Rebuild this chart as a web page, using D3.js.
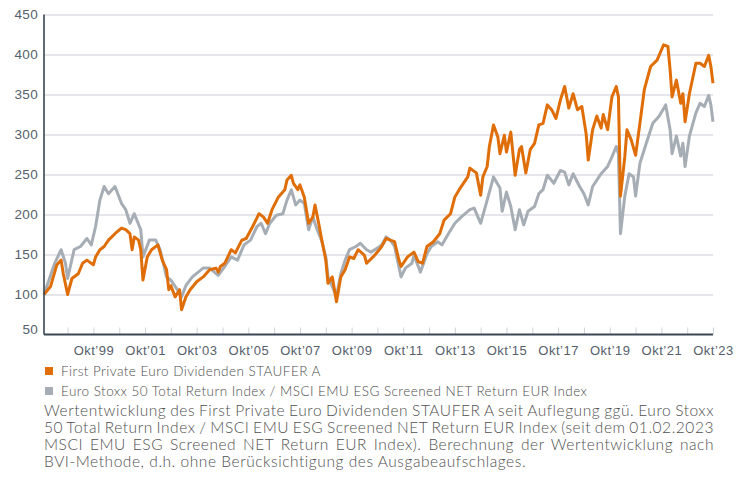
<!DOCTYPE html>
<html>
<head>
<meta charset="utf-8">
<script src="https://cdn.jsdelivr.net/npm/d3@7"></script>
<style>
  body { margin: 0; background: #fff; }
  svg { display: block; font-family: Lato, "Open Sans", sans-serif; }
  svg text { font-weight: 300; }
</style>
</head>
<body>
<script>
// ---- data (month, index value) ----
const fundDates = ["1997-11","1998-02","1998-05","1998-07","1998-08","1998-10","1998-12","1999-03","1999-05","1999-07",
  "1999-10","1999-11","2000-01","2000-03","2000-05","2000-08","2000-11","2001-01","2001-03","2001-04",
  "2001-05","2001-07","2001-08","2001-09","2001-11","2002-01","2002-04","2002-06","2002-08","2002-09",
  "2002-10","2002-12","2003-02","2003-03","2003-05","2003-07","2003-10","2004-01","2004-04","2004-07",
  "2004-08","2004-09","2004-11","2005-02","2005-04","2005-07","2005-09","2005-12","2006-03","2006-05",
  "2006-07","2006-09","2006-12","2007-03","2007-04","2007-06","2007-07","2007-09","2007-10","2007-12",
  "2008-02","2008-04","2008-05","2008-07","2008-08","2008-10","2008-11","2009-01","2009-03","2009-05",
  "2009-07","2009-09","2009-11","2010-01","2010-04","2010-05","2010-08","2010-10","2010-12","2011-02",
  "2011-04","2011-06","2011-08","2011-09","2011-12","2012-03","2012-05","2012-07","2012-09","2012-12",
  "2013-03","2013-05","2013-08","2013-10","2013-12","2014-04","2014-05","2014-08","2014-10","2014-11",
  "2015-01","2015-02","2015-04","2015-06","2015-07","2015-09","2015-10","2015-12","2016-02","2016-04",
  "2016-05","2016-07","2016-09","2016-11","2017-01","2017-03","2017-05","2017-07","2017-09","2017-11",
  "2018-01","2018-03","2018-05","2018-07","2018-09","2018-11","2018-12","2019-02","2019-04","2019-06",
  "2019-07","2019-09","2019-11","2020-01","2020-02","2020-03","2020-05","2020-06","2020-08","2020-10",
  "2020-12","2021-02","2021-05","2021-08","2021-11","2022-01","2022-02","2022-03","2022-05","2022-07",
  "2022-08","2022-09","2022-11","2023-02","2023-04","2023-06","2023-08","2023-09","2023-10"];
const fundValues = [100,110,137,143,126,100,120,126,139,143,
  137,147,156,160,168,176,183,181,176,156,
  172,168,156,118,147,156,162,143,131,106,
  111,97,106,81,97,106,116,122,131,133,
  128,135,139,156,152,168,170,185,201,197,
  189,206,222,231,243,249,239,231,237,222,
  189,197,212,185,170,143,114,122,91,122,
  131,147,145,156,149,139,147,153,160,170,
  168,166,143,135,147,153,141,139,160,166,
  176,193,201,222,231,247,258,252,224,247,
  260,285,312,297,276,299,278,303,249,281,
  285,252,281,289,312,314,337,331,320,343,
  360,333,351,331,335,301,268,306,323,308,
  325,306,347,360,347,223,272,306,293,274,
  314,356,385,393,412,410,381,347,368,339,
  351,316,351,389,389,385,399,385,364];

const benchDates = ["1997-11","1998-04","1998-07","1998-09","1998-10","1999-01","1999-04","1999-07","1999-09","1999-11",
  "2000-01","2000-03","2000-05","2000-08","2000-11","2001-01","2001-03","2001-05","2001-08","2001-09",
  "2001-12","2002-03","2002-05","2002-08","2002-10","2003-01","2003-03","2003-05","2003-08","2004-01",
  "2004-04","2004-08","2004-11","2005-02","2005-05","2005-08","2005-11","2006-02","2006-04","2006-06",
  "2006-08","2006-11","2007-02","2007-04","2007-06","2007-08","2007-10","2007-12","2008-02","2008-04",
  "2008-06","2008-08","2008-10","2008-11","2009-03","2009-05","2009-07","2009-09","2009-12","2010-02",
  "2010-05","2010-07","2010-10","2010-12","2011-02","2011-04","2011-06","2011-09","2011-11","2012-02",
  "2012-03","2012-06","2012-09","2012-11","2013-02","2013-04","2013-07","2013-10","2014-01","2014-05",
  "2014-07","2014-10","2015-01","2015-04","2015-07","2015-08","2015-10","2015-12","2016-02","2016-04",
  "2016-06","2016-08","2016-11","2017-01","2017-03","2017-05","2017-08","2017-11","2018-01","2018-03",
  "2018-05","2018-08","2018-10","2018-12","2019-02","2019-06","2019-09","2019-11","2020-01","2020-02",
  "2020-03","2020-05","2020-07","2020-09","2020-10","2020-12","2021-03","2021-06","2021-09","2021-12",
  "2022-02","2022-03","2022-05","2022-07","2022-08","2022-09","2022-11","2023-02","2023-04","2023-06",
  "2023-08","2023-09","2023-10"];
const benchValues = [100,139,156,139,120,156,160,170,162,185,
  218,235,226,235,214,206,189,201,181,147,
  168,168,156,122,118,106,97,111,122,133,
  133,124,135,147,143,162,168,185,189,176,
  189,199,201,218,231,212,218,214,181,197,
  181,168,147,122,98,126,143,156,160,164,
  156,153,158,162,172,168,160,122,133,139,
  149,128,151,160,166,162,176,189,197,206,
  208,189,218,247,233,204,228,210,181,206,
  187,204,210,226,231,249,239,255,253,237,
  251,235,226,212,235,251,260,272,285,276,
  176,223,251,247,223,264,289,314,323,337,
  306,276,298,273,289,260,298,327,339,335,
  349,337,316];

const seriesNames = ["First Private Euro Dividenden STAUFER A",
  "Euro Stoxx 50 Total Return Index / MSCI EMU ESG Screened NET Return EUR Index"];
const seriesColors = ["#e06e08", "#a6adb5"];

const yTicks = [50, 100, 150, 200, 250, 300, 350, 400, 450];
const tickYears = d3.range(1998, 2024);   // a tick every October
const labelYears = d3.range(1999, 2024, 2);

const noteLines = [
  "Wertentwicklung des First Private Euro Dividenden STAUFER A seit Auflegung ggü. Euro Stoxx",
  "50 Total Return Index / MSCI EMU ESG Screened NET Return EUR Index (seit dem 01.02.2023",
  "MSCI EMU ESG Screened NET Return EUR Index). Berechnung der Wertentwicklung nach",
  "BVI-Methode, d.h. ohne Berücksichtigung des Ausgabeaufschlages."
];

// ---- layout ----
const outerW = 745, outerH = 487;
const margin = {left: 44, right: 32, top: 14.5, bottom: 152.5};
const w = outerW - margin.left - margin.right,
    h = outerH - margin.top - margin.bottom;

const parseMonth = d3.timeParse("%Y-%m");
const fund = fundDates.map((d, i) => ({date: parseMonth(d), value: fundValues[i]}));
const bench = benchDates.map((d, i) => ({date: parseMonth(d), value: benchValues[i]}));

const x = d3.scaleTime()
    .domain([parseMonth("1997-11"), parseMonth("2023-10")])
    .range([0, w]);
const y = d3.scaleLinear().domain([50, 450]).range([h, 0]);

const svg = d3.select('body').append('svg')
    .attr('width', outerW)
    .attr('height', outerH);

const g = svg.append('g')
    .attr('transform', 'translate(' + margin.left + ',' + margin.top + ')');

// gridlines
const grid = g.append('g')
    .call(d3.axisLeft(y).tickValues(yTicks.slice(1)).tickSize(-w).tickFormat(''));
grid.select('.domain').remove();
grid.selectAll('line').attr('stroke', '#dcdde4').attr('stroke-width', 1.5);

// y labels
const yAxis = g.append('g')
    .call(d3.axisLeft(y).tickValues(yTicks).tickSize(0).tickPadding(6));
yAxis.select('.domain').remove();
yAxis.selectAll('text')
    .attr('fill', '#56606b')
    .style('font-size', '13.5px')
    .style('letter-spacing', '0.3px')
    .attr('dy', d => d === 50 ? '-0.05em' : '0.32em');

// x axis with small upward ticks
const octs = tickYears.map(yr => new Date(yr, 9, 1));
const xAxis = g.append('g')
    .attr('transform', 'translate(0,' + h + ')')
    .call(d3.axisBottom(x)
        .tickValues(octs)
        .tickSize(-7)
        .tickPadding(11)
        .tickFormat(d => labelYears.includes(d.getFullYear()) ? 'Okt\u2019' + d3.timeFormat('%y')(d) : ''));
xAxis.select('.domain').remove();
xAxis.selectAll('line').attr('stroke', '#cfd3d9').attr('stroke-width', 1);
xAxis.selectAll('text')
    .attr('fill', '#56606b')
    .style('font-size', '13px')
    .style('letter-spacing', '0.5px');

// lines
const line = d3.line()
    .x(d => x(d.date))
    .y(d => y(d.value));

g.append('path')
    .datum(bench)
    .attr('fill', 'none')
    .attr('stroke', seriesColors[1])
    .attr('stroke-width', 3)
    .attr('stroke-linejoin', 'round')
    .attr('d', line);

g.append('path')
    .datum(fund)
    .attr('fill', 'none')
    .attr('stroke', seriesColors[0])
    .attr('stroke-width', 3)
    .attr('stroke-linejoin', 'round')
    .attr('d', line);

// axis lines
g.append('line')
    .attr('x1', 0).attr('x2', 0).attr('y1', 0).attr('y2', h)
    .attr('stroke', '#3a4654').attr('stroke-width', 1.6);
g.append('line')
    .attr('x1', 0).attr('x2', w).attr('y1', h).attr('y2', h)
    .attr('stroke', '#3a4654').attr('stroke-width', 2);

// legend
const legend = svg.append('g').attr('transform', 'translate(45,367)');
seriesNames.forEach((name, i) => {
    const row = legend.append('g').attr('transform', 'translate(0,' + i * 20 + ')');
    row.append('rect').attr('width', 8).attr('height', 8).attr('fill', seriesColors[i]);
    row.append('text')
        .attr('x', 16).attr('y', 4).attr('dy', '0.35em')
        .attr('fill', '#4d4d4d')
        .style('font-size', '13.5px')
        .style('letter-spacing', '0.45px')
        .text(name);
});

// justified note below the chart
const noteW = 670;
const note = svg.append('g').attr('transform', 'translate(44,416)');
noteLines.forEach((txt, i) => {
    const t = note.append('text')
        .attr('y', i * 17)
        .attr('fill', '#505050')
        .style('font-size', '15.5px')
        .style('letter-spacing', '0.55px')
        .text(txt);
    if (i < noteLines.length - 1) {
        const spaces = txt.split(' ').length - 1;
        const extra = (noteW - t.node().getComputedTextLength()) / spaces;
        t.attr('word-spacing', extra);
    }
});
</script>
</body>
</html>
